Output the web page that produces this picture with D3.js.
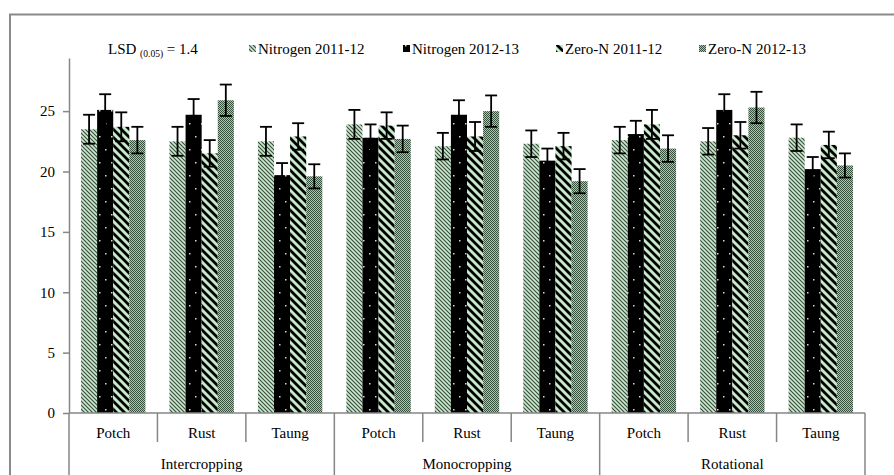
<!DOCTYPE html>
<html>
<head>
<meta charset="utf-8">
<script src="https://cdn.jsdelivr.net/npm/d3@7/dist/d3.min.js"></script>
<style>
  html, body { margin: 0; padding: 0; background: #fff; }
  svg { display: block; }
</style>
</head>
<body>
<svg id="chart" width="894" height="475" font-family="'Liberation Serif', 'Times New Roman', serif"></svg>
<script>
// Cropping systems (outer groups) and cultivars (inner categories)
const groups = ["Intercropping", "Monocropping", "Rotational"];
const cultivars = ["Potch", "Rust", "Taung"];
const seriesNames = ["Nitrogen 2011-12", "Nitrogen 2012-13", "Zero-N 2011-12", "Zero-N 2012-13"];

// Values in order: Intercropping (Potch, Rust, Taung), Monocropping (...), Rotational (...)
const nitrogen1112 = [23.5, 22.5, 22.5, 23.9, 22.1, 22.3, 22.6, 22.5, 22.8];
const nitrogen1213 = [25.1, 24.7, 19.7, 22.8, 24.7, 20.9, 23.1, 25.1, 20.2];
const zeroN1112    = [23.7, 21.5, 22.9, 23.8, 22.9, 22.1, 23.9, 23.0, 22.2];
const zeroN1213    = [22.6, 25.9, 19.6, 22.7, 25.0, 19.2, 21.9, 25.3, 20.5];

// Error bar half-lengths
const errN1112 = [1.2, 1.2, 1.2, 1.2, 1.1, 1.1, 1.1, 1.1, 1.1];
const errN1213 = [1.3, 1.3, 1.0, 1.1, 1.2, 1.0, 1.1, 1.3, 1.0];
const errZ1112 = [1.2, 1.1, 1.1, 1.1, 1.2, 1.1, 1.2, 1.1, 1.1];
const errZ1213 = [1.1, 1.3, 1.0, 1.1, 1.3, 1.0, 1.1, 1.3, 1.0];

const yTicks = [0, 5, 10, 15, 20, 25];
const lsdLabel = { main: "LSD", sub: "(0.05)", value: " = 1.4" };

const seriesValues = [nitrogen1112, nitrogen1213, zeroN1112, zeroN1213];
const seriesErrors = [errN1112, errN1213, errZ1112, errZ1213];

const svg = d3.select("#chart");
const axisColor = "#868686";
const lightGreen = "#c8eacc";
const fontSize = 15;

// ---- fill patterns ----
const defs = svg.append("defs");

// light green with thin dark downward diagonals
const p0 = defs.append("pattern").attr("id", "pat0").attr("patternUnits", "userSpaceOnUse")
  .attr("width", 4).attr("height", 4);
p0.append("rect").attr("width", 4).attr("height", 4).attr("fill", lightGreen);
p0.append("path").attr("d", "M-1,-1L5,5M-1,3L1,5M3,-1L5,1")
  .attr("stroke", "#3a4a3c").attr("stroke-width", 1.1);

// black with sparse light dots
const p1 = defs.append("pattern").attr("id", "pat1").attr("patternUnits", "userSpaceOnUse")
  .attr("width", 12).attr("height", 26);
p1.append("rect").attr("width", 12).attr("height", 26).attr("fill", "#000");
p1.append("rect").attr("x", 3).attr("y", 6).attr("width", 1.5).attr("height", 1.5).attr("fill", "#d0e0d0");
p1.append("rect").attr("x", 9).attr("y", 19).attr("width", 1.5).attr("height", 1.5).attr("fill", "#d0e0d0");

// light green with wide black downward diagonals
const p2 = defs.append("pattern").attr("id", "pat2").attr("patternUnits", "userSpaceOnUse")
  .attr("width", 8).attr("height", 8);
p2.append("rect").attr("width", 8).attr("height", 8).attr("fill", lightGreen);
p2.append("path").attr("d", "M-2,-2L10,10M-6,2L2,10M2,-6L10,2")
  .attr("stroke", "#000").attr("stroke-width", 2.8);

// fine dark checker
const p3 = defs.append("pattern").attr("id", "pat3").attr("patternUnits", "userSpaceOnUse")
  .attr("width", 2).attr("height", 2);
p3.append("rect").attr("width", 2).attr("height", 2).attr("fill", "#a9c9ac");
p3.append("rect").attr("x", 0).attr("y", 0).attr("width", 1).attr("height", 1).attr("fill", "#34503a");
p3.append("rect").attr("x", 1).attr("y", 1).attr("width", 1).attr("height", 1).attr("fill", "#34503a");

const fills = ["url(#pat0)", "url(#pat1)", "url(#pat2)", "url(#pat3)"];

// ---- outer frame ----
svg.append("path")
  .attr("d", "M10,1000V14.5H1000")
  .attr("fill", "none").attr("stroke", "#8a8a8a").attr("stroke-width", 2);

// ---- scales ----
const plotLeft = 69, plotRight = 865, baseY = 413, topY = 58;
const catKeys = [];
groups.forEach(g => cultivars.forEach(c => catKeys.push(g + "|" + c)));

const x0 = d3.scaleBand().domain(catKeys).range([plotLeft, plotRight]).paddingInner(0).paddingOuter(0);
const barsWidth = x0.bandwidth() * 0.728;
const x1 = d3.scaleBand().domain(d3.range(seriesNames.length))
  .range([(x0.bandwidth() - barsWidth) / 2, (x0.bandwidth() + barsWidth) / 2]).padding(0);
const y = d3.scaleLinear().domain([0, 29.4]).range([baseY, topY]);

// ---- bars ----
const barG = svg.append("g");
seriesValues.forEach((vals, s) => {
  barG.selectAll(null).data(vals).enter().append("rect")
    .attr("x", (d, i) => x0(catKeys[i]) + x1(s))
    .attr("width", x1.bandwidth())
    .attr("y", d => y(d))
    .attr("height", d => y(0) - y(d))
    .attr("fill", fills[s]);
});

// ---- error bars ----
const errG = svg.append("g").attr("stroke", "#000").attr("stroke-width", 1.8);
seriesValues.forEach((vals, s) => {
  vals.forEach((v, i) => {
    const cx = x0(catKeys[i]) + x1(s) + x1.bandwidth() / 2;
    const e = seriesErrors[s][i];
    const yHi = y(v + e), yLo = y(v - e);
    errG.append("line").attr("x1", cx).attr("x2", cx).attr("y1", yHi).attr("y2", yLo);
    errG.append("line").attr("x1", cx - 6).attr("x2", cx + 6).attr("y1", yHi).attr("y2", yHi);
    errG.append("line").attr("x1", cx - 6).attr("x2", cx + 6).attr("y1", yLo).attr("y2", yLo);
  });
});

// ---- y axis ----
const yAxis = d3.axisLeft(y).tickValues(yTicks).tickSize(6).tickPadding(8).tickSizeOuter(0);
const yG = svg.append("g").attr("transform", `translate(${plotLeft},0)`).call(yAxis);
yG.attr("font-family", null).attr("font-size", null);
yG.select(".domain").attr("stroke", axisColor).attr("stroke-width", 1.5);
yG.selectAll(".tick line").attr("stroke", axisColor).attr("stroke-width", 1.5);
yG.selectAll(".tick text").attr("font-size", fontSize).attr("fill", "#000");

// ---- x axis: baseline, category separators, labels ----
const xAx = svg.append("g");
xAx.append("line").attr("x1", plotLeft).attr("x2", plotRight).attr("y1", baseY).attr("y2", baseY)
  .attr("stroke", axisColor).attr("stroke-width", 1.5);

const boundaries = d3.range(catKeys.length + 1);
xAx.selectAll(".sep").data(boundaries).enter().append("line")
  .attr("x1", i => plotLeft + i * x0.step())
  .attr("x2", i => plotLeft + i * x0.step())
  .attr("y1", baseY)
  .attr("y2", i => (i % cultivars.length === 0) ? 476 : 442)
  .attr("stroke", axisColor).attr("stroke-width", 1.5);

xAx.selectAll(".cat").data(catKeys).enter().append("text")
  .attr("x", d => x0(d) + x0.bandwidth() / 2)
  .attr("y", 438)
  .attr("text-anchor", "middle").attr("font-size", fontSize)
  .text(d => d.split("|")[1]);

xAx.selectAll(".grp").data(groups).enter().append("text")
  .attr("x", (g, i) => plotLeft + (i * 3 + 1.5) * x0.step())
  .attr("y", 469)
  .attr("text-anchor", "middle").attr("font-size", fontSize)
  .text(g => g);

// ---- LSD annotation ----
const lsd = svg.append("text").attr("x", 108).attr("y", 54).attr("font-size", fontSize);
lsd.append("tspan").text(lsdLabel.main + " ");
lsd.append("tspan").attr("font-size", 9.5).attr("dy", 3).text(lsdLabel.sub);
lsd.append("tspan").attr("dy", -3).text(lsdLabel.value);

// ---- legend ----
const legendX = [249, 403, 556, 699];
const leg = svg.append("g");
seriesNames.forEach((name, s) => {
  leg.append("rect").attr("x", legendX[s]).attr("y", 45).attr("width", 7).attr("height", 7)
    .attr("fill", fills[s]);
  leg.append("text").attr("x", legendX[s] + 9).attr("y", 54).attr("font-size", fontSize).text(name);
});
</script>
</body>
</html>
